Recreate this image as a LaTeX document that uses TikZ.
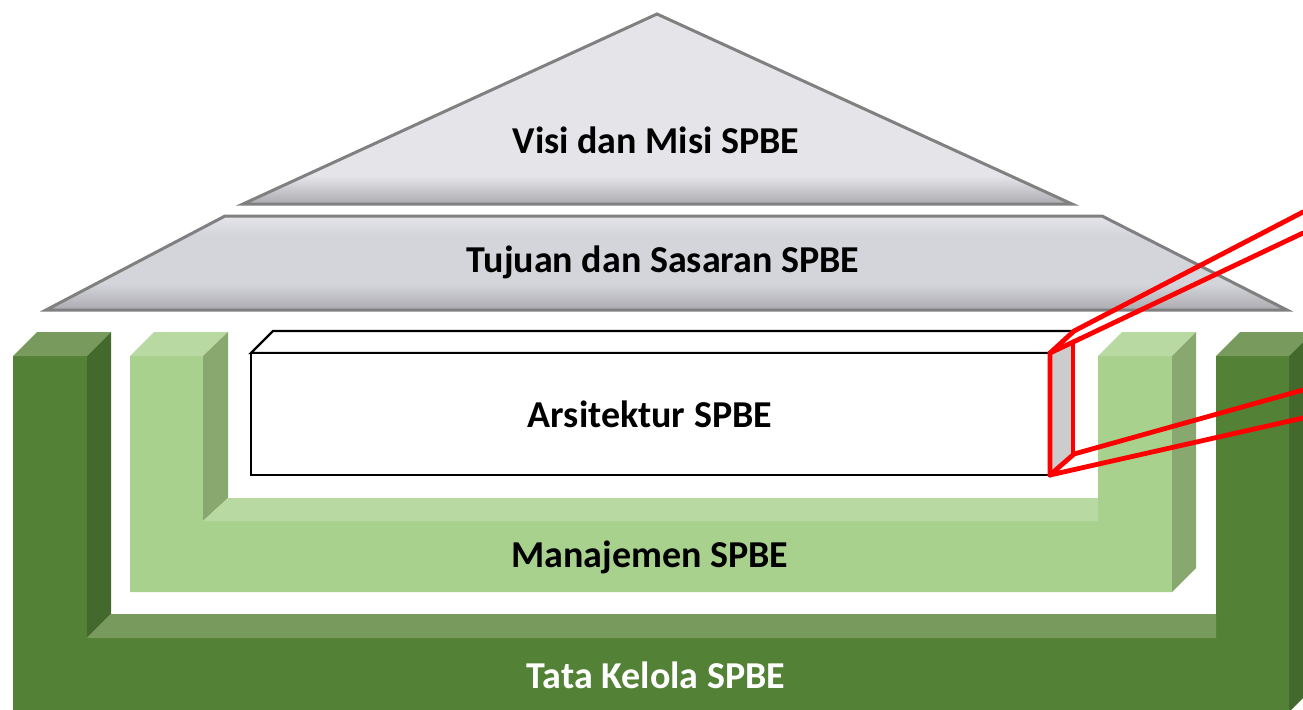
\documentclass[tikz,border=0pt]{standalone}
\usepackage{fontspec}
\setmainfont{Carlito}
\definecolor{dgF}{HTML}{538135}
\definecolor{dgS}{HTML}{44692C}
\definecolor{dgT}{HTML}{789A5C}
\definecolor{lgF}{HTML}{A9D18E}
\definecolor{lgS}{HTML}{88A870}
\definecolor{lgT}{HTML}{B9D9A3}
\definecolor{roofA}{HTML}{E4E4E9}
\definecolor{roofB}{HTML}{D4D5DA}
\definecolor{roofD}{HTML}{A9A9AE}
\definecolor{roofE}{HTML}{808080}
\definecolor{faceG}{HTML}{CCCCCC}
\definecolor{beam}{HTML}{FF0000}
\tikzset{
  lbl/.style={font=\fontsize{19}{23}\selectfont\bfseries, inner sep=0pt, anchor=center},
  roofline/.style={draw=roofE, line width=1.5pt, line join=miter},
  beamline/.style={draw=beam, line width=2.4pt, line join=miter, line cap=round},
  boxline/.style={draw=black, line width=1.2pt, line join=miter}
}
\begin{document}
\begin{tikzpicture}[x=0.5pt,y=-0.5pt]
\clip (0,0) rectangle (1303,709);
\fill[white] (0,0) rectangle (1303,709);

% ---- Tata Kelola (dark green U) ----
\fill[dgF] (13,356) -- (87,356) -- (87,638) -- (1216,638) -- (1216,356) -- (1289,356) -- (1289,712) -- (13,712) -- cycle;
\fill[dgT] (13,356) -- (37,332) -- (111,332) -- (87,356) -- cycle;
\fill[dgS] (87,356) -- (111,332) -- (111,614) -- (87,638) -- cycle;
\fill[dgT] (87,638) -- (111,614) -- (1216,614) -- (1216,638) -- cycle;
\fill[dgT] (1216,356) -- (1240,332) -- (1313,332) -- (1289,356) -- cycle;
\fill[dgS] (1289,356) -- (1313,332) -- (1313,688) -- (1289,712) -- cycle;

% ---- Manajemen (light green U) ----
\fill[lgF] (130,356) -- (203,356) -- (203,521) -- (1098,521) -- (1098,356) -- (1172,356) -- (1172,592) -- (130,592) -- cycle;
\fill[lgT] (130,356) -- (154,332) -- (228,332) -- (203,356) -- cycle;
\fill[lgS] (203,356) -- (228,332) -- (228,498) -- (203,521) -- cycle;
\fill[lgT] (203,521) -- (228,498) -- (1098,498) -- (1098,521) -- cycle;
\fill[lgT] (1098,356) -- (1122,332) -- (1196,332) -- (1172,356) -- cycle;
\fill[lgS] (1172,356) -- (1196,332) -- (1196,568) -- (1172,592) -- cycle;

% ---- Visi dan Misi (triangle) ----
\fill[roofA] (657,14) -- (1072,204) -- (243,204) -- cycle;
\begin{scope}
  \clip (657,14) -- (1072,204) -- (243,204) -- cycle;
  \shade[top color=roofA, bottom color=roofD] (200,176) rectangle (1110,205);
\end{scope}
\draw[roofline] (657,14) -- (1072,204) -- (243,204) -- cycle;

% ---- Tujuan dan Sasaran (trapezoid) ----
\fill[roofB] (225,216) -- (1102,216) -- (1287,310) -- (46,310) -- cycle;
\begin{scope}
  \clip (225,216) -- (1102,216) -- (1287,310) -- (46,310) -- cycle;
  \shade[top color=roofA, bottom color=roofB] (30,216) rectangle (1300,236);
  \shade[top color=roofB, bottom color=roofD] (30,284) rectangle (1300,311);
\end{scope}
\draw[roofline] (225,216) -- (1102,216) -- (1287,310) -- (46,310) -- cycle;

% ---- Arsitektur box ----
\filldraw[fill=white, boxline] (251,353) -- (273,331) -- (1074,331) -- (1050,353) -- cycle;
\filldraw[fill=white, boxline] (251,353) rectangle (1050,475);

% ---- red beam ----
\fill[faceG] (1050,353) -- (1073,342) -- (1073,454) -- (1050,475) -- cycle;
\draw[beamline] (1050,475) -- (1050,353) -- (1074,331) -- (1303,212);
\draw[beamline] (1050,353) -- (1303,233);
\draw[beamline] (1073,342) -- (1073,454);
\draw[beamline] (1050,475) -- (1074,454) -- (1303,390);
\draw[beamline] (1050,475) -- (1303,418);

% ---- labels ----
\node[lbl] (visi) at (656,140) {Visi dan Misi SPBE};
\node[lbl] (tujuan) at (663,262) {Tujuan dan Sasaran SPBE};
\node[lbl] (arsi) at (650,414) {Arsitektur SPBE};
\node[lbl] (mana) at (650,557) {Manajemen SPBE};
\node[lbl, text=white] (tata) at (656,675) {Tata Kelola SPBE};
\end{tikzpicture}
\end{document}
